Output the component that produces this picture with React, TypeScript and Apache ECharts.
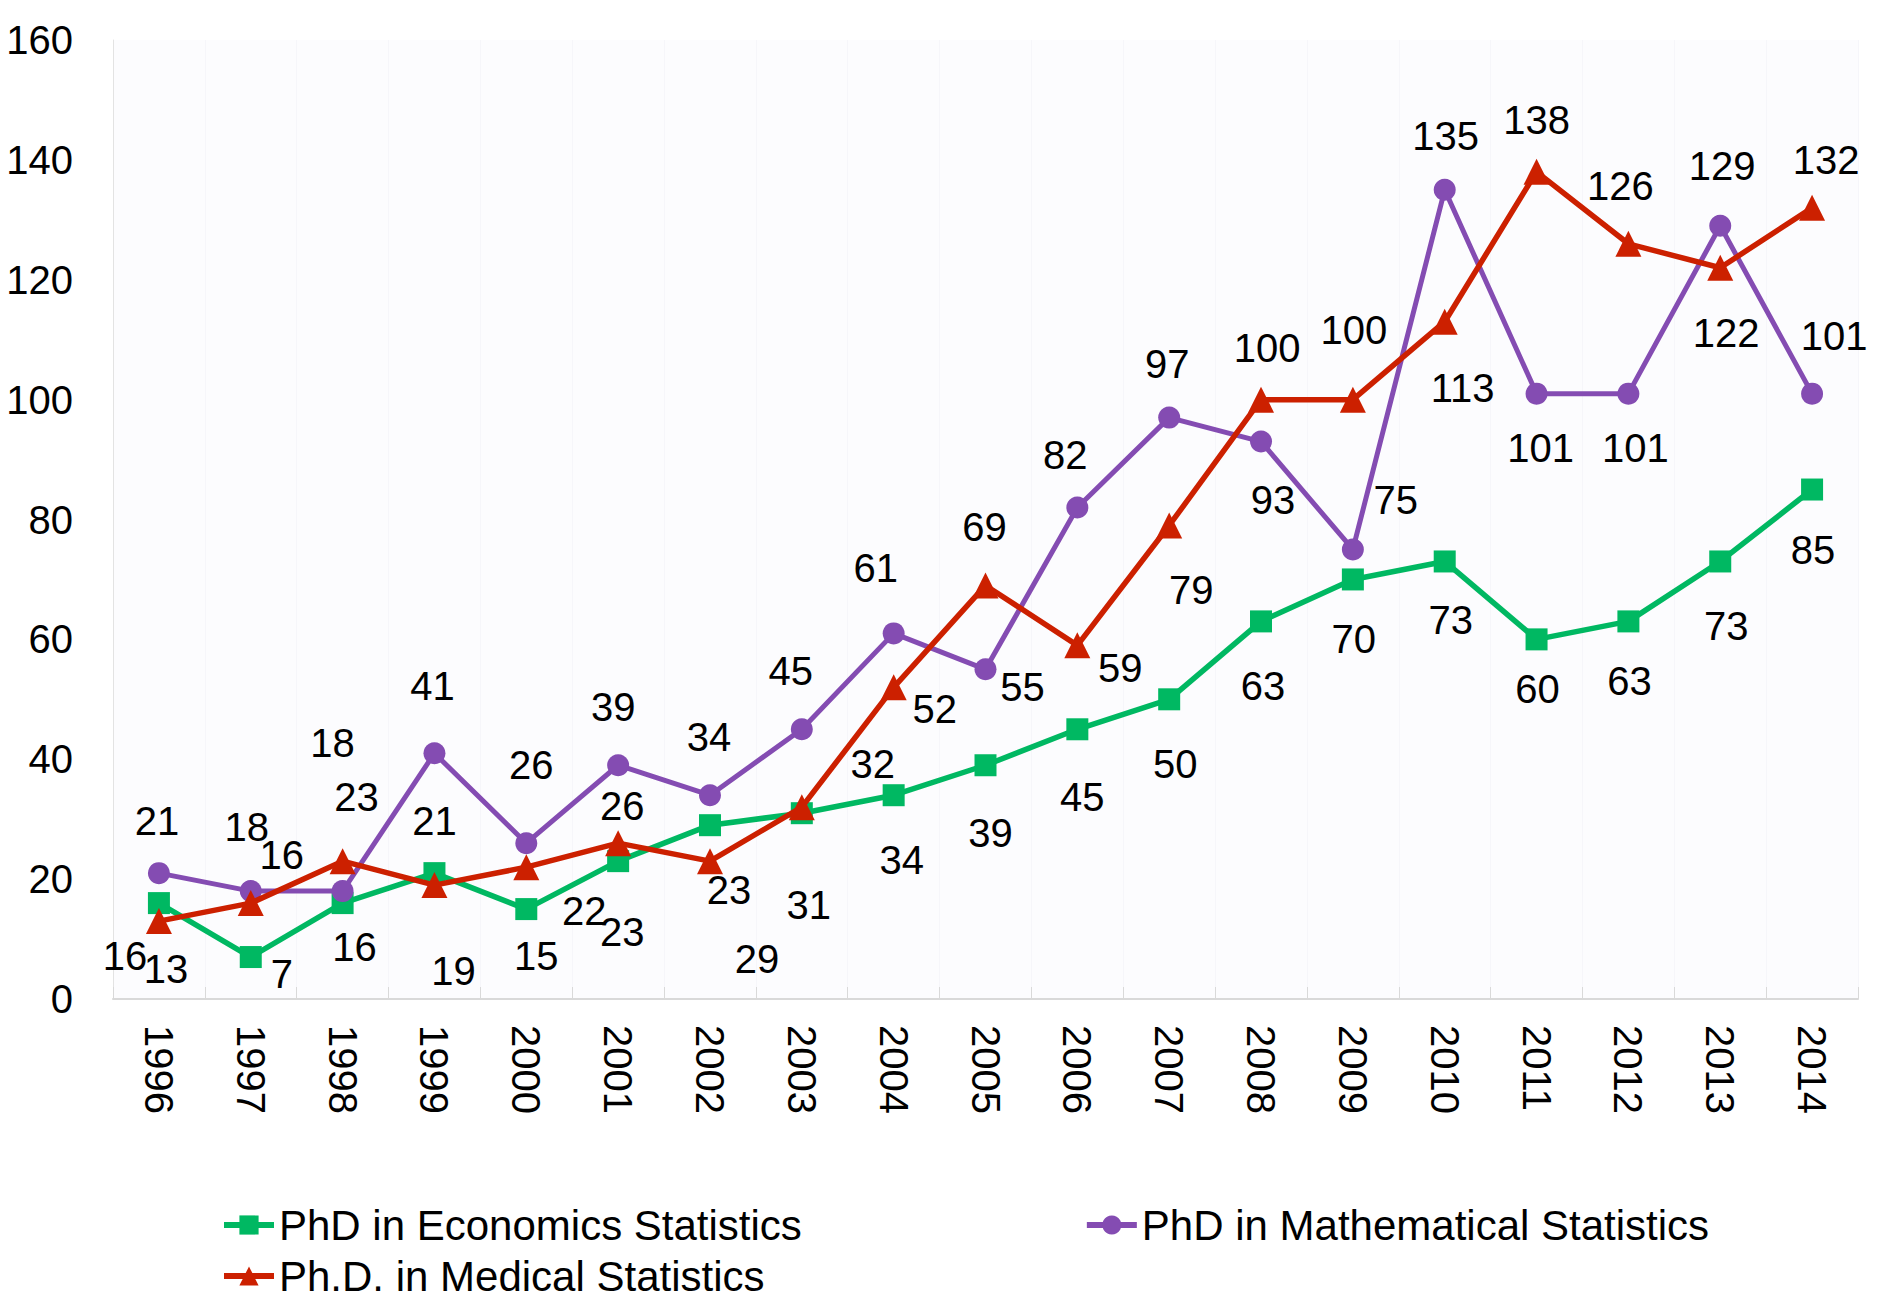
import React, { useEffect, useRef } from "react";
import * as echarts from "echarts";

const years = ["1996","1997","1998","1999","2000","2001","2002","2003","2004","2005","2006","2007","2008","2009","2010","2011","2012","2013","2014"];
const economics = [16,7,16,21,15,23,29,31,34,39,45,50,63,70,73,60,63,73,85];
const mathematical = [21,18,18,41,26,39,34,45,61,55,82,97,93,75,135,101,101,129,101];
const medical = [13,16,23,19,22,26,23,32,52,69,59,79,100,100,113,138,126,122,132];
const yTicks = { min: 0, max: 160, interval: 20 };

// label offsets (styling only), in px relative to the point
const econOffsets = [[-34,53],[31,17],[12,44],[0,-52],[10,47],[4,71],[47,134],[7,92],[8,65],[5,68],[5,68],[6,65],[2,65],[1,60],[6,59],[1,50],[1,60],[6,65],[1,60]];
const mathOffsets = [[-2,-52],[-4,-64],[-10,-148],[-2,-67],[5,-78],[-5,-58],[-1,-58],[-11,-58],[-18,-65],[37,18],[-12,-53],[-2,-54],[12,58],[43,-49],[1,-54],[4,54],[7,54],[2,-60],[22,-58]];
const medOffsets = [[7,48],[31,-48],[14,-64],[19,86],[58,44],[4,-37],[19,29],[71,-43],[41,22],[-1,-58],[43,23],[22,65],[6,-52],[1,-70],[18,66],[0,-52],[-8,-58],[6,65],[14,-48]];

const FONT = "'Liberation Sans', Arial, sans-serif";
const GREEN = "#00B862";
const PURPLE = "#844CB2";
const RED = "#CC2000";

function mk(values: number[], offs: number[][]) {
  return values.map((v, i) => ({
    value: v,
    label: { offset: offs[i] },
  }));
}

export default function App() {
  const ref = useRef<HTMLDivElement>(null);
  useEffect(() => {
    if (!ref.current) return;
    const chart = echarts.init(ref.current, null, { renderer: "svg" });
    const labelBase = {
      show: true,
      position: "inside",
      color: "#000",
      fontSize: 40,
      fontFamily: FONT,
    };
    const legendCommon = {
      left: 216,
      itemWidth: 50,
      itemHeight: 24,
      lineStyle: { width: 6 },
      textStyle: { fontSize: 42, color: "#000", fontFamily: FONT },
    };
    chart.setOption({
      animation: false,
      backgroundColor: "#ffffff",
      textStyle: { fontFamily: FONT },
      grid: {
        left: 113,
        right: 22,
        top: 40,
        bottom: 300,
        show: true,
        backgroundColor: "#FCFCFE",
        borderWidth: 0,
      },
      legend: [
        {
          ...legendCommon,
          data: ["PhD in Economics Statistics", "PhD in Mathematical Statistics"],
          top: 1199,
          itemGap: 282,
        },
        {
          ...legendCommon,
          data: ["Ph.D. in Medical Statistics"],
          top: 1250,
        },
      ],
      xAxis: {
        type: "category",
        data: years,
        boundaryGap: true,
        axisLine: { show: true, lineStyle: { color: "#D9D9D9", width: 2 } },
        axisTick: { show: true, inside: true, length: 12, lineStyle: { color: "#D9D9D9", width: 1 } },
        axisLabel: { rotate: -90, fontSize: 40, color: "#000", fontFamily: FONT, margin: 26 },
        splitLine: { show: true, lineStyle: { color: "#F6F6FA", width: 1 } },
      },
      yAxis: {
        type: "value",
        min: yTicks.min,
        max: yTicks.max,
        interval: yTicks.interval,
        axisLine: { show: true, lineStyle: { color: "#E3E3E3", width: 1 } },
        axisTick: { show: false },
        splitLine: { show: false },
        axisLabel: { fontSize: 40, color: "#000", fontFamily: FONT, margin: 40 },
      },
      series: [
        {
          name: "PhD in Economics Statistics",
          type: "line",
          data: mk(economics, econOffsets),
          symbol: "rect",
          symbolSize: 22,
          lineStyle: { color: GREEN, width: 5.5 },
          itemStyle: { color: GREEN },
          label: labelBase,
          z: 2,
        },
        {
          name: "PhD in Mathematical Statistics",
          type: "line",
          data: mk(mathematical, mathOffsets),
          symbol: "circle",
          symbolSize: 22,
          lineStyle: { color: PURPLE, width: 5 },
          itemStyle: { color: PURPLE },
          label: labelBase,
          z: 3,
        },
        {
          name: "Ph.D. in Medical Statistics",
          type: "line",
          data: mk(medical, medOffsets),
          symbol: "triangle",
          symbolSize: 26,
          lineStyle: { color: RED, width: 5.5 },
          itemStyle: { color: RED },
          label: labelBase,
          z: 4,
        },
      ],
    });
    return () => chart.dispose();
  }, []);
  return (
    <div
      ref={ref}
      style={{ position: "fixed", left: 0, top: 0, width: 1880, height: 1299, background: "#fff" }}
    />
  );
}
